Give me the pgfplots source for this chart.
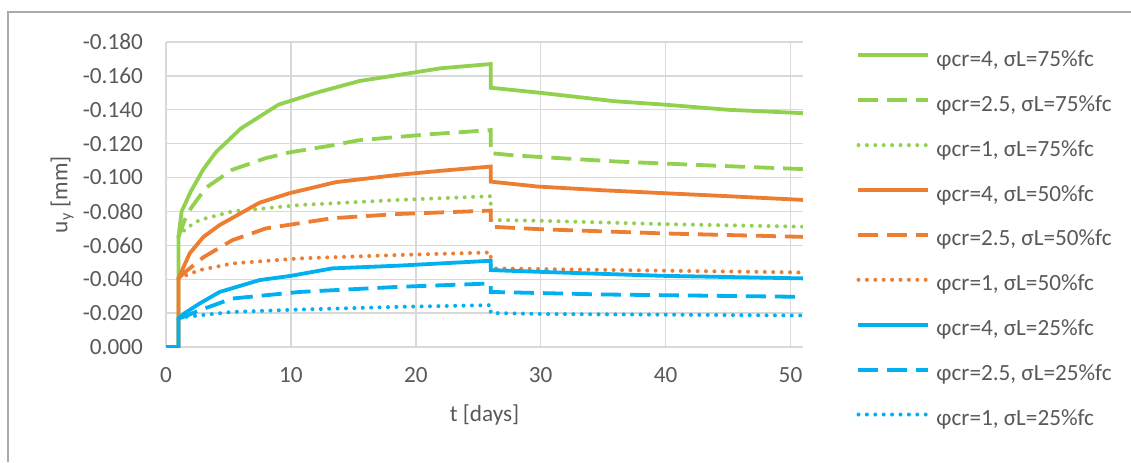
\documentclass[border=0pt]{standalone}
\usepackage{fontspec}
\setmainfont{Carlito}
\usepackage{pgfplots}
\pgfplotsset{compat=1.18}
\definecolor{cgreen}{RGB}{146,208,80}
\definecolor{corange}{RGB}{237,125,49}
\definecolor{cblue}{RGB}{0,176,240}
\definecolor{textgray}{RGB}{89,89,89}
\definecolor{gridgray}{RGB}{217,217,217}
\definecolor{framegray}{RGB}{170,170,170}
\tikzset{
  solidline/.style={line width=1.9pt, solid},
  dashline/.style={line width=1.9pt, dash pattern=on 10pt off 4.5pt},
  dotline/.style={line width=2pt, line cap=round, dash pattern=on 0pt off 4.2pt},
}
\newcommand{\chartfont}{\fontsize{11.6}{13.9}\selectfont}
\begin{document}
\chartfont
\begin{tikzpicture}
\path[use as bounding box] (0,0) rectangle (565.5pt,231pt);
\draw[color=framegray, line width=0.6pt] (4pt,0) -- (4pt,225pt) -- (565.5pt,225pt);
\begin{axis}[
  at={(83pt,57.5pt)}, anchor=south west,
  scale only axis, width=318.5pt, height=152.5pt,
  xmin=0, xmax=51, ymin=-0.18, ymax=0, y dir=reverse,
  xtick={0,10,20,30,40,50},
  ytick={-0.18,-0.16,-0.14,-0.12,-0.1,-0.08,-0.06,-0.04,-0.02,0},
  grid=major, major grid style={color=gridgray, line width=0.7pt},
  axis line style={draw=none},
  major tick length=0pt,
  tick label style={color=textgray, font=\chartfont},
  /pgf/number format/assume math mode=true,
  yticklabel style={/pgf/number format/.cd, fixed, fixed zerofill, precision=3, /tikz/.cd, xshift=-7.5pt},
  xticklabel style={yshift=-6pt},
  xlabel={t [days]}, ylabel={u\textsubscript{y} [mm]},
  label style={color=textgray, font=\chartfont},
  xlabel style={at={(axis description cs:0.5,-0.223)}, anchor=center},
  ylabel style={at={(axis description cs:-0.163,0.5)}, anchor=center},
  legend style={draw=none, fill=none, at={(axis description cs:1.084,0.978)}, anchor=north west,
    inner sep=0pt, outer sep=0pt, row sep=10.45pt, column sep=2pt,
    font=\chartfont, text=textgray,
    nodes={inner sep=1pt, text height=7.8pt, text depth=2.2pt}},
  legend cell align=left,
  legend image code/.code={\draw[#1] (0pt,2.7pt) -- (35pt,2.7pt);},
]
% phi=4, 75%
\addplot[cgreen, solidline] coordinates {
(0,0) (1,0) (1,-0.065) (1.25,-0.080) (2,-0.092) (3,-0.105) (4,-0.115) (6,-0.129) (9,-0.143) (12,-0.150) (15.5,-0.157) (19,-0.161) (22,-0.1645) (26,-0.167)
(26,-0.153) (30,-0.150) (36,-0.145) (40,-0.143) (45,-0.140) (51,-0.138)};
\addlegendentry{φcr=4, σL=75\%fc}
% phi=2.5, 75%
\addplot[cgreen, dashline] coordinates {
(1,-0.065) (1.5,-0.075) (2,-0.082) (3.2,-0.094) (5.3,-0.1046) (8,-0.1115) (10,-0.115) (13.3,-0.119) (15.4,-0.122) (18.6,-0.124) (21,-0.1255) (26,-0.128)
(26,-0.1144) (28,-0.113) (36,-0.1095) (44,-0.107) (51,-0.105)};
\addlegendentry{φcr=2.5, σL=75\%fc}
% phi=1, 75%
\addplot[cgreen, dotline] coordinates {
(1,-0.065) (1.6,-0.070) (2.7,-0.075) (5.3,-0.080) (10.7,-0.0838) (18.6,-0.0868) (26,-0.089)
(26,-0.075) (30,-0.0745) (40,-0.0725) (51,-0.071)};
\addlegendentry{φcr=1, σL=75\%fc}
% phi=4, 50%
\addplot[corange, solidline] coordinates {
(0,0) (1,0) (1,-0.0405) (1.9,-0.0553) (3,-0.065) (4.3,-0.072) (7.5,-0.0852) (9.9,-0.0908) (13.6,-0.0973) (18.6,-0.1016) (22,-0.104) (26,-0.1065)
(26,-0.0976) (29.75,-0.0947) (35,-0.0925) (39.8,-0.0908) (45,-0.089) (51,-0.0868)};
\addlegendentry{φcr=4, σL=50\%fc}
% phi=2.5, 50%
\addplot[corange, dashline] coordinates {
(1,-0.0405) (1.4,-0.0434) (3,-0.053) (5.3,-0.063) (8,-0.070) (13.3,-0.076) (18.6,-0.0785) (26,-0.0805)
(26,-0.071) (30,-0.0695) (40,-0.067) (51,-0.065)};
\addlegendentry{φcr=2.5, σL=50\%fc}
% phi=1, 50%
\addplot[corange, dotline] coordinates {
(1,-0.0405) (1.25,-0.0414) (2.7,-0.0454) (5.3,-0.0493) (10.7,-0.0523) (18.6,-0.0543) (26,-0.0558)
(26,-0.0464) (35,-0.0455) (51,-0.044)};
\addlegendentry{φcr=1, σL=50\%fc}
% phi=4, 25%
\addplot[cblue, solidline] coordinates {
(0,0) (1,0) (1,-0.0168) (1.5,-0.020) (2.7,-0.0257) (4.3,-0.0325) (7.5,-0.0395) (10,-0.042) (13.3,-0.0464) (18.6,-0.048) (26,-0.0509)
(26,-0.0454) (29.75,-0.0444) (39.8,-0.042) (51,-0.0405)};
\addlegendentry{φcr=4, σL=25\%fc}
% phi=2.5, 25%
\addplot[cblue, dashline] coordinates {
(1,-0.0168) (1.5,-0.018) (2.7,-0.0217) (5.3,-0.0286) (10.7,-0.0325) (18.6,-0.0355) (26,-0.0375)
(26,-0.0325) (35,-0.031) (51,-0.0296)};
\addlegendentry{φcr=2.5, σL=25\%fc}
% phi=1, 25%
\addplot[cblue, dotline] coordinates {
(1,-0.0168) (1.6,-0.0178) (5.3,-0.0207) (10.7,-0.0221) (18.6,-0.0237) (26,-0.0247)
(26,-0.0201) (30,-0.0195) (51,-0.0186)};
\addlegendentry{φcr=1, σL=25\%fc}
\end{axis}
\end{tikzpicture}
\end{document}
